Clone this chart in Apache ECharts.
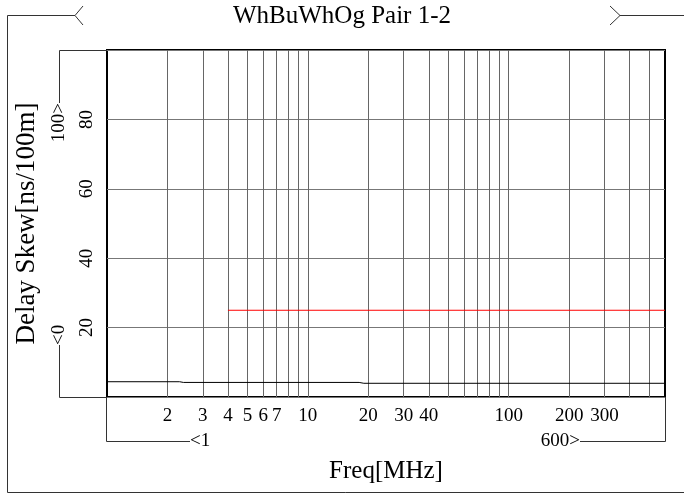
<!DOCTYPE html>
<html>
<head>
<meta charset="utf-8">
<script src="https://cdn.jsdelivr.net/npm/echarts@6/dist/echarts.min.js"></script>
<style>
  html, body { margin: 0; padding: 0; background: #fff; }
  #chart { width: 684px; height: 495px; }
</style>
</head>
<body>
<div id="chart"></div>
<script>
// Labels
const chartTitle = 'WhBuWhOg Pair 1-2';
const xName = 'Freq[MHz]';
const yName = 'Delay Skew[ns/100m]';

// Axis ranges and grid / tick values
const freqRange = [1, 600];
const skewRange = [0, 100];
const skewStep = 20;
const gridFreqs = [2, 3, 4, 5, 6, 7, 8, 9, 10, 20, 30, 40, 50, 60, 70, 80, 90, 100, 200, 300, 400, 500];
const labeledFreqs = [2, 3, 4, 5, 6, 7, 10, 20, 30, 40, 100, 200, 300];

// Measured delay skew (ns/100m) against frequency (MHz)
const measuredFreq = [1, 2.3, 2.4, 18, 19, 600];
const measuredSkew = [4.4, 4.4, 4.2, 4.2, 3.95, 3.95];

// Limit line
const limitFreq = [4, 600];
const limitSkew = [25, 25];

const serif = '"Liberation Serif", "DejaVu Serif", serif';
const frameColor = '#333';

const zip = (a, b) => a.map((v, i) => [v, b[i]]);

const chart = echarts.init(document.getElementById('chart'), null, { renderer: 'canvas' });

const option = {
  animation: false,
  backgroundColor: '#fff',
  title: {
    text: chartTitle,
    left: 'center',
    top: 4,
    padding: [0, 0, 0, 10],
    textStyle: { fontFamily: serif, fontSize: 25, fontWeight: 'normal', color: '#000' }
  },
  grid: {
    left: 107, right: 19, top: 50, bottom: 98,
    show: true, borderColor: '#000', borderWidth: 2, backgroundColor: 'transparent'
  },
  xAxis: {
    type: 'log',
    logBase: 10,
    min: freqRange[0],
    max: freqRange[1],
    name: xName,
    nameLocation: 'middle',
    nameGap: 62,
    nameTextStyle: { fontFamily: serif, fontSize: 25, color: '#000' },
    axisLine: { show: false },
    axisTick: { show: false },
    axisLabel: { show: false },
    splitLine: { show: false },
    minorSplitLine: { show: false }
  },
  yAxis: {
    type: 'value',
    min: skewRange[0],
    max: skewRange[1],
    interval: skewStep,
    name: yName,
    nameLocation: 'middle',
    nameGap: 67,
    nameRotate: 90,
    nameTextStyle: { fontFamily: serif, fontSize: 27, color: '#000' },
    axisLine: { show: false },
    axisTick: { show: false },
    axisLabel: {
      rotate: 90,
      margin: 10,
      showMinLabel: false,
      showMaxLabel: false,
      fontFamily: serif,
      fontSize: 19,
      color: '#000'
    },
    splitLine: { show: true, lineStyle: { color: '#777', width: 1 } }
  },
  series: [
    {
      name: 'Measured',
      type: 'line',
      data: zip(measuredFreq, measuredSkew),
      symbol: 'none',
      z: 3,
      lineStyle: { color: '#000', width: 1 },
      markLine: {
        silent: true,
        z: 1,
        symbol: ['none', 'none'],
        lineStyle: { color: '#666', width: 1, type: 'solid' },
        emphasis: { disabled: true },
        data: gridFreqs.map(f => ({
          xAxis: f,
          label: {
            show: labeledFreqs.includes(f),
            position: 'start',
            distance: 10,
            formatter: String(f),
            fontFamily: serif,
            fontSize: 19,
            color: '#000'
          }
        }))
      }
    },
    {
      name: 'Limit',
      type: 'line',
      data: zip(limitFreq, limitSkew),
      symbol: 'none',
      z: 3,
      lineStyle: { color: '#ff0000', width: 1 }
    }
  ]
};

chart.setOption(option);

// Range brackets and outer frame, placed from the axis extents
const px = v => chart.convertToPixel({ xAxisIndex: 0 }, v);
const py = v => chart.convertToPixel({ yAxisIndex: 0 }, v);
const x0 = px(freqRange[0]), x1 = px(freqRange[1]);
const y0 = py(skewRange[0]), y1 = py(skewRange[1]);
const bx = Math.round(x0 - 48) + 0.5;   // y-range bracket column
const by = Math.round(y0 + 44) + 0.5;   // x-range bracket row
const lineStyle = { stroke: frameColor, lineWidth: 1, fill: null };
const textStyleOf = (text, align) => ({
  text, fill: '#000', font: '19px ' + serif, align, verticalAlign: 'middle'
});

chart.setOption({
  graphic: [
    // outer frame with title chevrons
    { type: 'polyline', silent: true, shape: { points: [[75, 15.5], [7.5, 15.5], [7.5, 492.5], [684, 492.5]] }, style: lineStyle },
    { type: 'polyline', silent: true, shape: { points: [[83, 6], [75, 15.5], [83, 25]] }, style: lineStyle },
    { type: 'polyline', silent: true, shape: { points: [[610, 6], [620, 15.5], [610, 25]] }, style: lineStyle },
    { type: 'polyline', silent: true, shape: { points: [[620, 15.5], [684, 15.5]] }, style: lineStyle },

    // y range: top
    { type: 'polyline', silent: true, shape: { points: [[x0, y1 + 0.5], [bx, y1 + 0.5], [bx, y1 + 53]] }, style: lineStyle },
    { type: 'text', silent: true, x: bx, y: y1 + 53, rotation: Math.PI / 2, style: textStyleOf(String(skewRange[1]) + '>', 'right') },
    // y range: bottom
    { type: 'polyline', silent: true, shape: { points: [[x0, y0 + 0.5], [bx, y0 + 0.5], [bx, y0 - 52]] }, style: lineStyle },
    { type: 'text', silent: true, x: bx, y: y0 - 52, rotation: Math.PI / 2, style: textStyleOf('<' + String(skewRange[0]), 'left') },

    // x range: left
    { type: 'polyline', silent: true, shape: { points: [[x0 - 0.5, y0], [x0 - 0.5, by], [x0 + 83, by]] }, style: lineStyle },
    { type: 'text', silent: true, x: x0 + 83, y: by, style: textStyleOf('<' + String(freqRange[0]), 'left') },
    // x range: right
    { type: 'polyline', silent: true, shape: { points: [[x1 + 0.5, y0], [x1 + 0.5, by], [x1 - 85, by]] }, style: lineStyle },
    { type: 'text', silent: true, x: x1 - 85, y: by, style: textStyleOf(String(freqRange[1]) + '>', 'right') }
  ]
});
</script>
</body>
</html>
